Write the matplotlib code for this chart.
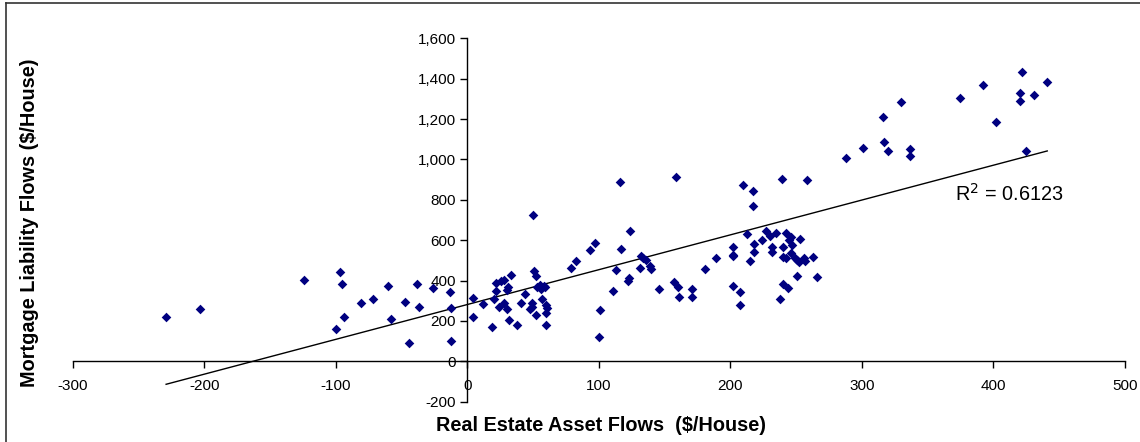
import numpy as np
import matplotlib
matplotlib.use("Agg")
import matplotlib.pyplot as plt
from matplotlib.lines import Line2D
from matplotlib.ticker import FuncFormatter

plt.rcParams['font.family'] = ['Liberation Sans', 'DejaVu Sans']
plt.rcParams['axes.unicode_minus'] = False

# Real estate asset flows ($/house)
asset_flows = [
    -229, -203, -124, -97, -95, -100, -94, -81, -72, -60, -58, -47, -44, -38, -37, -26, -13, -12, -12,
    4, 4, 12, 19, 20, 22, 22, 24, 26, 28, 28, 30, 31, 30, 32, 33, 38, 41, 44, 49, 49, 48,
    50, 51, 52, 52, 53, 55, 56, 58, 59, 57, 60, 61, 60, 60,
    79, 83, 93, 97, 101, 100, 111, 113, 117, 116, 124, 122, 123, 131, 132, 134, 136, 139, 140,
    146, 157, 159, 160, 161, 171, 171, 181, 189,
    202, 202, 202, 202, 207, 207, 210, 217, 217, 213, 215, 218, 218, 224, 227, 230, 232, 232,
    235, 239, 240, 242, 240, 242, 246, 245, 247, 246, 249, 251, 252, 253, 256, 257, 263, 258,
    238, 240, 244, 251, 266,
    288, 301, 316, 317, 320, 330, 337, 337, 375, 392, 402, 420, 420, 422, 431, 425, 441,
]

# Mortgage liability flows ($/house)
liability_flows = [
    221, 261, 401, 442, 385, 162, 218, 287, 307, 375, 208, 292, 92, 385, 271, 365, 343, 266, 102,
    312, 218, 286, 171, 307, 349, 386, 271, 396, 404, 287, 351, 366, 259, 207, 427, 182, 287, 333, 287, 270, 261,
    726, 449, 421, 228, 370, 376, 358, 371, 367, 307, 278, 266, 240, 182,
    464, 495, 553, 584, 256, 118, 349, 454, 558, 888, 647, 396, 412, 464, 522, 512, 504, 471, 455,
    360, 395, 914, 370, 317, 360, 317, 459, 510,
    568, 528, 521, 375, 343, 281, 872, 846, 767, 632, 496, 579, 543, 601, 643, 620, 566, 543,
    637, 904, 568, 634, 518, 511, 617, 601, 574, 538, 511, 501, 493, 606, 510, 499, 516, 898,
    307, 381, 364, 422, 417,
    1008, 1056, 1211, 1087, 1040, 1285, 1051, 1018, 1305, 1370, 1186, 1328, 1290, 1432, 1318, 1044, 1385,
]

x_ticks = [-300, -200, -100, 0, 100, 200, 300, 400, 500]
y_ticks = [-200, 0, 200, 400, 600, 800, 1000, 1200, 1400, 1600]
r2_label = "R$^2$ = 0.6123"

x = np.array(asset_flows, dtype=float)
y = np.array(liability_flows, dtype=float)

fig = plt.figure(figsize=(11.40, 4.42), dpi=100)
ax = fig.add_axes([0.0638, 0.0912, 0.9229, 0.8222])

ax.scatter(x, y, marker='D', s=24, color='#000080', linewidths=0, zorder=3)

# Linear trend line across the data range
slope, intercept = np.polyfit(x, y, 1)
xl = np.array([x.min(), x.max()])
ax.plot(xl, slope * xl + intercept, color='black', lw=1.0, zorder=2)

ax.text(371, 830, r2_label, fontsize=14.3, ha='left', va='center')

ax.set_xlim(-300, 500)
ax.set_ylim(-200, 1600)
ax.set_xticks(x_ticks)
ax.set_yticks(y_ticks)
ax.yaxis.set_major_formatter(FuncFormatter(lambda v, p: f"{int(v):,}"))

ax.spines['left'].set_position(('data', 0))
ax.spines['bottom'].set_position(('data', 0))
ax.spines['right'].set_visible(False)
ax.spines['top'].set_visible(False)
for s in ('left', 'bottom'):
    ax.spines[s].set_linewidth(1.0)
    ax.spines[s].set_color('black')

ax.tick_params(axis='both', direction='out', length=5, width=1.0, labelsize=11, colors='black')
ax.tick_params(axis='x', pad=8)
ax.tick_params(axis='y', pad=3)

fig.text(0.527, 0.038, "Real Estate Asset Flows  ($/House)", fontsize=14.3, fontweight='bold',
         ha='center', va='center')
fig.text(0.026, 0.497, "Mortgage Liability Flows ($/House)", fontsize=14.3, fontweight='bold',
         ha='center', va='center', rotation=90)

# Chart-area frame (left and top edges)
fig.add_artist(Line2D([6 / 1140, 6 / 1140], [0, 1 - 3 / 442], transform=fig.transFigure,
                      color='#333333', lw=1.2))
fig.add_artist(Line2D([6 / 1140, 1], [1 - 3 / 442, 1 - 3 / 442], transform=fig.transFigure,
                      color='#333333', lw=1.2))

fig.savefig("out.png", dpi=100)
